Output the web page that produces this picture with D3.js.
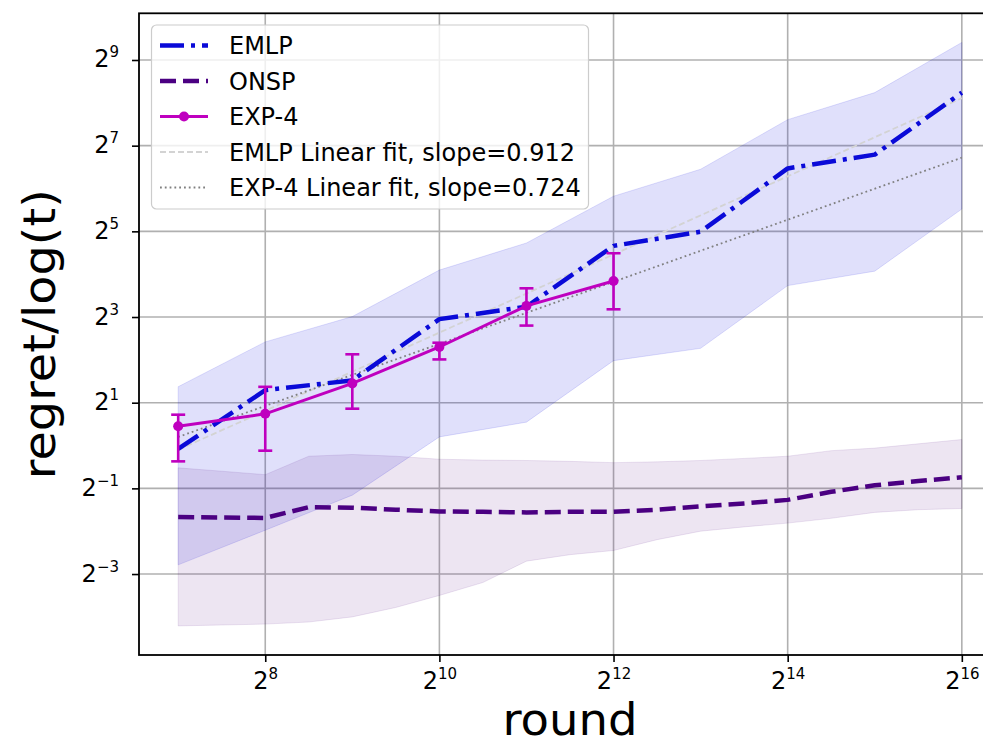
<!DOCTYPE html>
<html>
<head>
<meta charset="utf-8">
<script src="https://cdn.jsdelivr.net/npm/d3@7"></script>
<style>
  body { margin: 0; background: #fff; }
  svg { display: block; font-family: "DejaVu Sans", sans-serif; }
</style>
</head>
<body>
<svg id="chart"></svg>
<script>
// rounds where EMLP / EXP-4 were evaluated
const rounds = [128, 256, 512, 1024, 2048, 4096, 8192, 16384, 32768, 65536];
const emlpMean = [0.946, 2.45, 2.87, 7.73, 9.45, 25.3, 31.8, 88.6, 110.7, 302];
const emlpLow = [0.145, 0.254, 0.448, 1.15, 1.46, 3.95, 4.82, 13.3, 16.8, 45.9];
const emlpHigh = [2.59, 5.35, 8.06, 17.1, 26.5, 56.5, 87.4, 195, 302, 680];

// ONSP is recorded on a finer grid
const onspRounds = [128, 181, 256, 362, 512, 724, 1024, 1448, 2048, 2896, 4096, 5793, 8192, 11585, 16384, 23170, 32768, 46341, 65536];
const onspMean = [0.314, 0.312, 0.310, 0.369, 0.366, 0.354, 0.344, 0.342, 0.339, 0.342, 0.342, 0.354, 0.374, 0.392, 0.415, 0.473, 0.525, 0.563, 0.599];
const onspLow = [0.054, 0.0548, 0.0556, 0.0575, 0.0625, 0.0728, 0.0884, 0.109, 0.154, 0.171, 0.183, 0.218, 0.25, 0.268, 0.285, 0.308, 0.339, 0.354, 0.361];
const onspHigh = [0.697, 0.660, 0.624, 0.841, 0.865, 0.841, 0.801, 0.790, 0.785, 0.774, 0.758, 0.768, 0.785, 0.812, 0.841, 0.920, 0.959, 1.028, 1.102];

const expRounds = [128, 256, 512, 1024, 2048, 4096];
const expMean = [1.366, 1.670, 2.732, 4.925, 9.58, 14.32];
const expLow = [0.774, 0.920, 1.815, 4.028, 6.964, 9.063];
const expHigh = [1.647, 2.585, 4.377, 5.278, 12.73, 22.47];

// linear fits (log-log), endpoints
const fitRounds = [128, 65536];
const emlpFit = [0.933, 276];
const expFit = [1.149, 105.4];

const xTicks = [256, 1024, 4096, 16384, 65536];
const yTicks = [0.125, 0.5, 2, 8, 32, 128, 512];
const xLimits = [2 ** 6.55, 2 ** 16.45];
const yLimits = [2 ** -4.89, 2 ** 10.09];

const legendItems = ["EMLP", "ONSP", "EXP-4", "EMLP Linear fit, slope=0.912", "EXP-4 Linear fit, slope=0.724"];

const width = 983, height = 747;
const margin = { top: 13.3, right: -18, bottom: 92, left: 139 };

const svg = d3.select("#chart")
  .attr("width", width)
  .attr("height", height);

svg.append("rect").attr("width", width).attr("height", height).attr("fill", "#fff");

const x = d3.scaleLog().base(2)
  .domain(xLimits)
  .range([margin.left, width - margin.right]);

const y = d3.scaleLog().base(2)
  .domain(yLimits)
  .range([height - margin.bottom, margin.top]);

svg.append("clipPath").attr("id", "plot-clip")
  .append("rect")
  .attr("x", margin.left).attr("y", margin.top)
  .attr("width", width - margin.right - margin.left)
  .attr("height", height - margin.bottom - margin.top);

// gridlines
const grid = svg.append("g").attr("stroke", "#b0b0b0").attr("stroke-width", 1.6);
grid.selectAll(".vg").data(xTicks).join("line")
  .attr("x1", d => x(d)).attr("x2", d => x(d))
  .attr("y1", margin.top).attr("y2", height - margin.bottom);
grid.selectAll(".hg").data(yTicks).join("line")
  .attr("x1", margin.left).attr("x2", width - margin.right)
  .attr("y1", d => y(d)).attr("y2", d => y(d));

const plot = svg.append("g").attr("clip-path", "url(#plot-clip)");

const band = d3.area()
  .x(d => x(d[0]))
  .y0(d => y(d[1]))
  .y1(d => y(d[2]));

const line = d3.line()
  .x(d => x(d[0]))
  .y(d => y(d[1]));

plot.append("path")
  .datum(d3.zip(rounds, emlpLow, emlpHigh))
  .attr("d", band)
  .attr("fill", "#0000e0").attr("fill-opacity", 0.12)
  .attr("stroke", "#0000e0").attr("stroke-opacity", 0.12);

plot.append("path")
  .datum(d3.zip(onspRounds, onspLow, onspHigh))
  .attr("d", band)
  .attr("fill", "#4b0082").attr("fill-opacity", 0.1)
  .attr("stroke", "#4b0082").attr("stroke-opacity", 0.1);

// fit lines
plot.append("path")
  .datum(d3.zip(fitRounds, emlpFit))
  .attr("d", line)
  .attr("fill", "none")
  .attr("stroke", "#d3d3d3")
  .attr("stroke-width", 1.8)
  .attr("stroke-dasharray", "6,3");

plot.append("path")
  .datum(d3.zip(fitRounds, expFit))
  .attr("d", line)
  .attr("fill", "none")
  .attr("stroke", "#808080")
  .attr("stroke-width", 1.8)
  .attr("stroke-dasharray", "1.8,3");

plot.append("path")
  .datum(d3.zip(rounds, emlpMean))
  .attr("d", line)
  .attr("fill", "none")
  .attr("stroke", "#0a0ad8")
  .attr("stroke-width", 4.5)
  .attr("stroke-linejoin", "round")
  .attr("stroke-dasharray", "24,7,4,7");

plot.append("path")
  .datum(d3.zip(onspRounds, onspMean))
  .attr("d", line)
  .attr("fill", "none")
  .attr("stroke", "#4b0082")
  .attr("stroke-width", 4.5)
  .attr("stroke-linejoin", "round")
  .attr("stroke-dasharray", "16,7");

// EXP-4 with error bars
const expData = d3.zip(expRounds, expMean, expLow, expHigh);
const expG = plot.append("g").attr("stroke", "#bf00bf").attr("fill", "#bf00bf");
expG.append("path")
  .datum(expData)
  .attr("d", line)
  .attr("fill", "none")
  .attr("stroke-width", 3);
expG.selectAll(".eb").data(expData).join("line")
  .attr("x1", d => x(d[0])).attr("x2", d => x(d[0]))
  .attr("y1", d => y(d[2])).attr("y2", d => y(d[3]))
  .attr("stroke-width", 2.6);
expG.selectAll(".cap").data(expData.flatMap(d => [[d[0], d[2]], [d[0], d[3]]])).join("line")
  .attr("x1", d => x(d[0]) - 7).attr("x2", d => x(d[0]) + 7)
  .attr("y1", d => y(d[1])).attr("y2", d => y(d[1]))
  .attr("stroke-width", 2.6);
expG.selectAll("circle").data(expData).join("circle")
  .attr("cx", d => x(d[0])).attr("cy", d => y(d[1]))
  .attr("r", 5).attr("stroke", "none");

// axes
const supLabel = sel => sel.each(function (d) {
  const t = d3.select(this).text(null);
  const e = Math.round(Math.log2(d));
  t.append("tspan").text("2");
  t.append("tspan").attr("dy", -10).attr("font-size", 15)
    .text(String(e).replace("-", "\u2212"));
});

const xAxis = svg.append("g")
  .attr("transform", `translate(0,${height - margin.bottom})`)
  .call(d3.axisBottom(x).tickValues(xTicks).tickSize(7).tickSizeOuter(0));
xAxis.select(".domain").remove();
xAxis.selectAll("line").attr("stroke", "#000").attr("stroke-width", 1.6);
xAxis.selectAll("text")
  .attr("y", 34).attr("dy", 0)
  .attr("font-size", 24).attr("font-family", "DejaVu Sans").attr("fill", "#000")
  .call(supLabel);

const yAxis = svg.append("g")
  .attr("transform", `translate(${margin.left},0)`)
  .call(d3.axisLeft(y).tickValues(yTicks).tickSize(7).tickSizeOuter(0));
yAxis.select(".domain").remove();
yAxis.selectAll("line").attr("stroke", "#000").attr("stroke-width", 1.6);
yAxis.selectAll("text")
  .attr("x", -20).attr("dy", 7)
  .attr("font-size", 24).attr("font-family", "DejaVu Sans").attr("fill", "#000")
  .call(supLabel);

// frame
svg.append("rect")
  .attr("x", margin.left).attr("y", margin.top)
  .attr("width", width - margin.right - margin.left)
  .attr("height", height - margin.bottom - margin.top)
  .attr("fill", "none").attr("stroke", "#000").attr("stroke-width", 1.8);

// axis labels
svg.append("text")
  .attr("x", (margin.left + width - margin.right) / 2)
  .attr("y", 735)
  .attr("text-anchor", "middle")
  .attr("font-size", 45)
  .attr("textLength", 135)
  .attr("lengthAdjust", "spacingAndGlyphs")
  .text("round");

svg.append("text")
  .attr("transform", `translate(55,${(margin.top + height - margin.bottom) / 2}) rotate(-90)`)
  .attr("text-anchor", "middle")
  .attr("font-size", 44)
  .attr("textLength", 290)
  .attr("lengthAdjust", "spacingAndGlyphs")
  .text("regret/log(t)");

// legend
const legend = svg.append("g");
legend.append("rect")
  .attr("x", 151.5).attr("y", 25)
  .attr("width", 437).attr("height", 184)
  .attr("rx", 5)
  .attr("fill", "#fff").attr("fill-opacity", 0.8)
  .attr("stroke", "#cccccc").attr("stroke-width", 1.2);

const handles = [
  { stroke: "#0a0ad8", w: 4.5, dash: "24,7,4,7" },
  { stroke: "#4b0082", w: 4.5, dash: "16,7" },
  { stroke: "#bf00bf", w: 3, dash: null, dot: true },
  { stroke: "#d3d3d3", w: 1.8, dash: "6,3" },
  { stroke: "#808080", w: 1.8, dash: "1.8,3" }
];

legendItems.forEach((name, i) => {
  const ly = 45.5 + i * 35.5;
  const h = handles[i];
  legend.append("line")
    .attr("x1", 160).attr("x2", 208)
    .attr("y1", ly).attr("y2", ly)
    .attr("stroke", h.stroke).attr("stroke-width", h.w)
    .attr("stroke-dasharray", h.dash);
  if (h.dot) {
    legend.append("circle").attr("cx", 184).attr("cy", ly).attr("r", 5).attr("fill", h.stroke);
  }
  legend.append("text")
    .attr("x", 229).attr("y", ly).attr("dy", "0.36em")
    .attr("font-size", 24)
    .text(name);
});
</script>
</body>
</html>
